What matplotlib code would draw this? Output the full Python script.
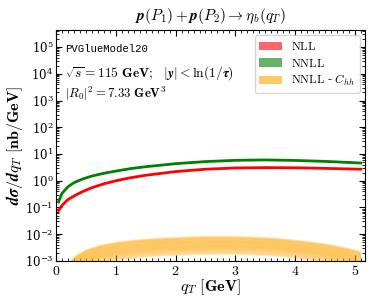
import matplotlib
matplotlib.use("Agg")
import matplotlib.pyplot as plt
import numpy as np
from matplotlib.patches import Patch
from matplotlib.ticker import MultipleLocator, LogLocator, NullFormatter

plt.rcParams['mathtext.fontset'] = 'cm'
plt.rcParams['font.family'] = 'serif'
plt.rcParams['font.serif'] = ['DejaVu Serif']
plt.rcParams['axes.formatter.use_mathtext'] = True

# ---- data ----
qT = [0.04, 0.1, 0.2, 0.3, 0.44, 0.6, 0.8, 1.0, 1.25, 1.5, 2.0, 2.5, 3.0, 3.5, 4.0, 4.5, 5.1]
nll = [0.077, 0.12, 0.2, 0.27, 0.39, 0.55, 0.77, 1.0, 1.3, 1.6, 2.2, 2.7, 3.0, 3.1, 3.05, 2.9, 2.7]
nnll = [0.16, 0.34, 0.6, 0.85, 1.15, 1.5, 1.9, 2.3, 2.85, 3.35, 4.35, 5.2, 5.8, 6.0, 5.75, 5.3, 4.6]

qT_band = [0.05, 0.1, 0.15, 0.2, 0.25, 0.35, 0.5, 0.75, 1.0, 1.25, 1.5, 1.75, 2.0, 2.25,
           2.5, 2.75, 3.0, 3.25, 3.5, 3.75, 4.0, 4.25, 4.5, 4.75, 5.1]
band_top = [0.2e-3, 0.4e-3, 0.6e-3, 0.8e-3, 1.0e-3, 1.6e-3, 2.5e-3, 3.8e-3, 4.8e-3, 5.6e-3,
            6.3e-3, 6.9e-3, 7.3e-3, 7.7e-3, 7.9e-3, 8.0e-3, 7.9e-3, 7.6e-3, 7.2e-3, 6.6e-3,
            5.8e-3, 5.0e-3, 4.2e-3, 3.3e-3, 2.2e-3]
band_scales = [1.0, 0.95, 0.9, 0.86, 0.82, 0.78, 0.74, 0.7, 0.67, 0.64, 0.61, 0.58,
               0.55, 0.52, 0.5, 0.47, 0.45, 0.43, 0.41, 0.39, 0.37, 0.35, 0.33,
               0.31, 0.29, 0.27, 0.25, 0.23]

legend_labels = [r'$\mathrm{NLL}$', r'$\mathrm{NNLL}$', r'$\mathrm{NNLL}$ - $C_{hh}$']

fig = plt.figure(figsize=(3.74, 3.01), dpi=100)
ax = fig.add_axes([0.150, 0.133, 0.826, 0.767])

bt = np.array(band_top)
for s in band_scales:
    ax.plot(qT_band, bt * s, color='orange', alpha=0.24, lw=1.4, solid_capstyle='butt')

ax.plot(qT, nll, color='red', lw=2)
ax.plot(qT, nnll, color='green', lw=2)

ax.set_yscale('log')
ax.set_xlim(0, 5.17)
ax.set_ylim(1e-3, 4.3e5)
ax.xaxis.set_major_locator(MultipleLocator(1))
ax.xaxis.set_minor_locator(MultipleLocator(0.1))
ax.yaxis.set_major_locator(LogLocator(base=10, numticks=20))
ax.yaxis.set_minor_locator(LogLocator(base=10, subs=np.arange(2, 10), numticks=20))
ax.yaxis.set_minor_formatter(NullFormatter())
ax.tick_params(which='both', direction='in', top=True, right=True)
ax.tick_params(which='major', length=4, width=0.8, labelsize=10, pad=2)
ax.tick_params(which='minor', length=2, width=0.6)
ax.tick_params(axis='y', which='major', labelsize=8.5)
ax.set_xticks([0, 1, 2, 3, 4, 5])
ax.set_xticklabels([r'$\mathbf{%d}$' % v for v in range(6)])

ax.set_xlabel(r'$\boldsymbol{q_T}$ $\mathbf{[GeV]}$', fontsize=11.5, labelpad=0)
ax.set_ylabel(r'$\boldsymbol{d\sigma/dq_T}$ $\mathbf{[nb/GeV]}$', fontsize=11.5, labelpad=0)
ax.set_title(r'$\boldsymbol{p(P_1) + p(P_2) \rightarrow \eta_b(q_T)}$', fontsize=11, pad=7)

ax.text(0.03, 0.918, 'PVGlueModel20', transform=ax.transAxes, family='Liberation Mono',
        fontsize=7.7, va='center')
ax.text(0.03, 0.814, r'$\boldsymbol{\sqrt{s}=115}$ $\mathbf{GeV;}$  $\boldsymbol{|y|<\ln(1/\tau)}$',
        transform=ax.transAxes, fontsize=9.7, va='center')
ax.text(0.03, 0.725, r'$\boldsymbol{|R_0|^2=7.33}$ $\mathbf{GeV^3}$',
        transform=ax.transAxes, fontsize=9.2, va='center')

handles = [Patch(facecolor='red', alpha=0.6, edgecolor='none'),
           Patch(facecolor='green', alpha=0.6, edgecolor='none'),
           Patch(facecolor='orange', alpha=0.6, edgecolor='none')]
ax.legend(handles, legend_labels, loc='upper right', frameon=True,
          fancybox=True, framealpha=0.8, edgecolor='0.8', handlelength=1.9,
          handleheight=0.75, labelspacing=0.3, borderaxespad=0.45, fontsize=8.5)

fig.savefig('out.png', dpi=100)
